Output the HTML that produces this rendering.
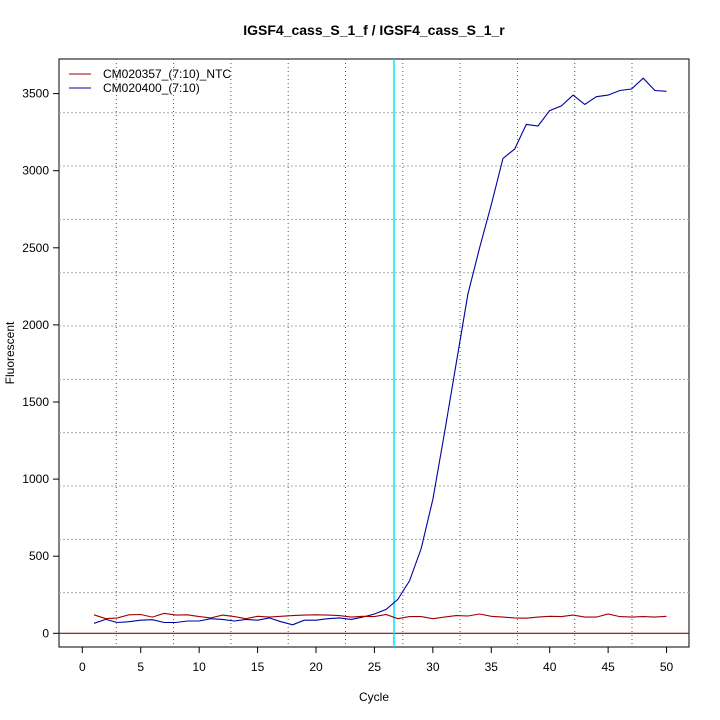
<!DOCTYPE html>
<html><head><meta charset="utf-8"><style>body{margin:0;background:#fff}svg{display:block}</style></head>
<body>
<svg id="s" width="720" height="720" xmlns="http://www.w3.org/2000/svg" font-family="Liberation Sans, sans-serif" font-size="12"></svg>
<script>
const s=document.getElementById('s');let h='';
const X=c=>82.3+c*11.685, Y=v=>633.3-v*0.1542;
h+='<rect x="59" y="59" width="630" height="588" fill="none" stroke="#000" stroke-width="1"/>';
for(let i=0;i<10;i++){const x=116.3+i*57.3;h+=`<line x1="${x}" y1="59" x2="${x}" y2="647" stroke="#555" stroke-dasharray="1,3"/>`;}
for(let i=0;i<10;i++){const y=112.7+i*53.33;h+=`<line x1="59" y1="${y}" x2="689" y2="${y}" stroke="#aaa" stroke-dasharray="2,2"/>`;}
for(let v=0;v<=3500;v+=500){const y=Y(v);h+=`<line x1="53" y1="${y}" x2="59" y2="${y}" stroke="#000"/><text x="49" y="${y+4}" text-anchor="end">${v}</text>`;}
for(let c=0;c<=50;c+=5){const x=X(c);h+=`<line x1="${x}" y1="647" x2="${x}" y2="653" stroke="#000"/><text x="${x}" y="671" text-anchor="middle">${c}</text>`;}
h+=`<line x1="59" y1="${Y(0)}" x2="689" y2="${Y(0)}" stroke="#a00000" stroke-width="1.2"/>`;
h+=`<line x1="394" y1="59" x2="394" y2="647" stroke="#00e5ff" stroke-width="1.5"/>`;
const b=[65,90,70,75,85,88,70,70,80,80,95,90,80,90,85,100,75,55,85,85,95,100,90,105,125,155,220,340,550,870,1300,1750,2200,2500,2780,3080,3140,3300,3290,3390,3420,3490,3430,3480,3490,3520,3530,3600,3520,3515];
const r=[120,95,100,120,122,105,130,118,120,108,100,118,108,95,110,105,110,115,118,120,118,115,105,110,108,122,95,108,108,95,105,115,112,125,110,105,100,98,105,110,108,118,105,105,125,108,105,108,105,110];
const pl=(a,col)=>`<polyline fill="none" stroke="${col}" stroke-width="1.1" points="${a.map((v,i)=>X(i+1).toFixed(1)+','+Y(v).toFixed(1)).join(' ')}"/>`;
h+=pl(b,'#0000a0')+pl(r,'#a00000');
h+='<line x1="69" y1="74" x2="91" y2="74" stroke="#a00000"/><text x="103" y="78">CM020357_(7:10)_NTC</text>';
h+='<line x1="69" y1="88" x2="91" y2="88" stroke="#0000a0"/><text x="103" y="92">CM020400_(7:10)</text>';
h+='<text x="374" y="35" text-anchor="middle" font-weight="bold" font-size="14">IGSF4_cass_S_1_f / IGSF4_cass_S_1_r</text>';
h+='<text x="374" y="701" text-anchor="middle">Cycle</text>';
h+='<text transform="translate(14,353) rotate(-90)" text-anchor="middle">Fluorescent</text>';
s.innerHTML=h;
</script>
</body></html>
